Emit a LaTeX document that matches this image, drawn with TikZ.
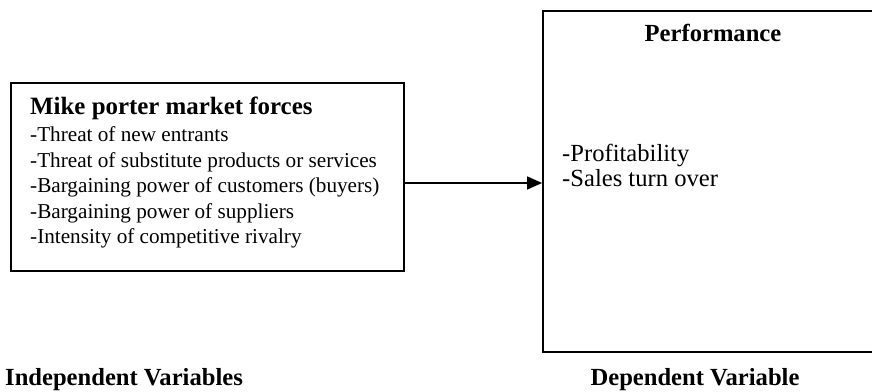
\documentclass[tikz,border=0pt]{standalone}
\usepackage{fontspec}
\setmainfont{Liberation Serif}
\usetikzlibrary{arrows.meta}
\begin{document}
\begin{tikzpicture}[x=1pt,y=1pt,
  box/.style={draw, line width=1.8pt, inner sep=0pt},
  head/.style={anchor=base west, inner sep=0pt, font=\fontsize{24.9}{28}\selectfont\bfseries},
  item/.style={anchor=base west, inner sep=0pt, font=\fontsize{21.2}{25}\selectfont},
  big/.style={anchor=base west, inner sep=0pt, font=\fontsize{24.6}{28}\selectfont},
  label/.style={anchor=base, inner sep=0pt, font=\fontsize{24.6}{28}\selectfont\bfseries},
  conn/.style={line width=1.4pt, -{Triangle[length=15pt,width=13pt]}}]
\useasboundingbox (0,0) rectangle (872,391);
% boxes
\node[box, minimum width=393pt, minimum height=188pt] (lb) at (207.5,214) {};
\node[box, minimum width=340pt, minimum height=341pt] (rb) at (713,209.5) {};
% left box text
\node[head] (h1) at (30,276) {Mike porter market forces};
\node[item] (i1) at (30,249) {-Threat of new entrants};
\node[item] (i2) at (30,223.5) {-Threat of substitute products or services};
\node[item] (i3) at (30,198) {-Bargaining power of customers (buyers)};
\node[item] (i4) at (30,172.5) {-Bargaining power of suppliers};
\node[item] (i5) at (30,147) {-Intensity of competitive rivalry};
% right box text
\node[label] (h2) at (713,349) {Performance};
\node[big] (r1) at (562,229) {-Profitability};
\node[big] (r2) at (562,204) {-Sales turn over};
% bottom labels
\node[label, anchor=base west] (l1) at (5,6) {Independent Variables};
\node[label] (l2) at (695,6) {Dependent Variable};
% connector
\coordinate (arr) at (0,208);
\draw[conn] (lb.east |- arr) -- (rb.west |- arr);
\end{tikzpicture}
\end{document}
